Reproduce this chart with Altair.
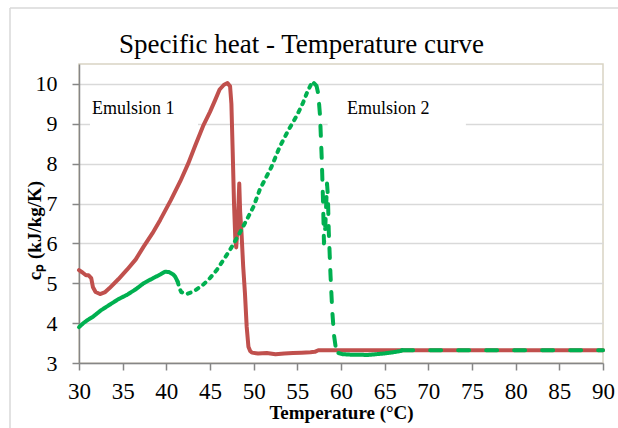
import altair as alt
import pandas as pd

TITLE = "Specific heat - Temperature curve"
X_TITLE = "Temperature (°C)"
Y_TITLE = "cₚ (kJ/kg/K)"
x_ticks = list(range(30, 95, 5))
y_ticks = list(range(3, 11))

# Emulsion 1 (red, solid)
e1_T = [30, 30.4, 30.8, 31.1, 31.4, 31.6, 31.9, 32.4, 33.0, 33.5, 34.5, 35.5, 36.5, 37.4,
        38.4, 39.3, 40.5, 41.6, 42.5, 43.3, 44.2, 45.0, 45.6, 46.1, 46.6, 47.0, 47.3, 47.45,
        47.6, 47.75, 47.9, 48.0, 48.2, 48.35, 48.45, 48.6, 48.8, 49.0, 49.2, 49.4, 49.6, 49.8,
        50.5, 51.5, 52.5, 53.5, 54.5, 55.5, 56.5, 57.0, 57.4, 60, 70, 80, 90]
e1_cp = [5.33, 5.27, 5.2, 5.2, 5.13, 4.9, 4.78, 4.73, 4.78, 4.88, 5.1, 5.34, 5.6, 5.92,
         6.25, 6.59, 7.08, 7.56, 8.0, 8.45, 8.94, 9.3, 9.6, 9.86, 9.98, 10.02, 9.94, 9.5,
         8.3, 7.0, 6.1, 5.9, 6.6, 7.5, 6.8, 6.3, 5.42, 4.76, 3.91, 3.41, 3.3, 3.26,
         3.24, 3.25, 3.22, 3.24, 3.25, 3.26, 3.27, 3.28, 3.32, 3.32, 3.32, 3.32, 3.32]

# Emulsion 2 (green, dashed)
e2_T = [30, 30.5, 31, 31.6, 32.5, 33.5, 34.5, 35.5, 36.5, 37.4, 38.5, 39.3, 39.85, 40.3,
        40.8, 41.0, 41.3, 41.5, 41.7, 42.3, 43.1, 44.2, 45.0, 45.8, 46.5, 47.3, 48.4, 49.2,
        50.0, 50.7, 52.0, 53.0, 54.0, 54.9, 55.6, 56.2, 56.6, 56.9, 57.2, 57.4, 57.6, 57.8,
        57.95, 58.05, 58.2, 58.4, 58.5, 58.6, 58.8, 59.0, 59.2, 59.4, 59.7, 60.2, 61, 62,
        63, 64, 65, 66, 66.8, 67.0, 70, 80, 90]
e2_cp = [3.9, 4.0, 4.08, 4.16, 4.32, 4.46, 4.6, 4.71, 4.85, 5.0, 5.13, 5.22, 5.29, 5.28,
         5.22, 5.17, 5.04, 4.88, 4.78, 4.73, 4.79, 4.96, 5.13, 5.34, 5.57, 5.84, 6.26, 6.59,
         6.93, 7.35, 7.9, 8.43, 8.85, 9.19, 9.5, 9.83, 10.0, 10.02, 9.95, 9.75, 9.2, 8.1,
         7.0, 6.0, 6.4, 7.5, 7.2, 6.3, 5.2, 4.3, 3.7, 3.38, 3.25, 3.22, 3.21, 3.21,
         3.2, 3.22, 3.24, 3.27, 3.3, 3.32, 3.32, 3.32, 3.32]
e2_breaks = [30, 41.3, 56.9, 59.7, 67.0, 90]
e2_styles = ["solid", "dot", "dash", "solid", "longdash"]

# annotation labels and their white backgrounds
lab_text = ["Emulsion 1", "Emulsion 2"]
lab_T = [31.49, 60.69]
lab_cp = [9.245, 9.245]
box_T0 = [31.26, 58.47]
box_T1 = [43.63, 74.3]
box_cp0 = [8.9, 8.9]
box_cp1 = [9.85, 9.85]

FONT = "Liberation Serif"
RED = "#c0504d"
GREEN = "#00b050"

df1 = pd.DataFrame({"T": e1_T, "cp": e1_cp})
rows = []
for i in range(len(e2_styles)):
    lo, hi = e2_breaks[i], e2_breaks[i + 1]
    for t, c in zip(e2_T, e2_cp):
        if lo <= t <= hi:
            rows.append({"T": t, "cp": c, "seg": f"s{i}", "style": e2_styles[i]})
df2 = pd.DataFrame(rows)
labels = pd.DataFrame({"text": lab_text, "T": lab_T, "cp": lab_cp})
boxes = pd.DataFrame({"T0": box_T0, "T1": box_T1, "c0": box_cp0, "c1": box_cp1})

xs = alt.Scale(domain=[30, 90], nice=False, zero=False)
ys = alt.Scale(domain=[3, 10.5], nice=False, zero=False)

x_axis = alt.Axis(values=x_ticks, title=X_TITLE, grid=False, labelFontSize=23,
                  labelFont=FONT, labelColor="black", labelPadding=10, tickSize=7,
                  titleFont=FONT, titleFontSize=19, titleFontWeight="bold",
                  titleColor="black", titleBaseline="alphabetic", titleY=55.5,
                  labelFlush=False)
y_axis = alt.Axis(values=y_ticks, title=Y_TITLE, grid=True, labelFontSize=22,
                  labelFont=FONT, labelColor="black", labelPadding=15, tickSize=7,
                  titleFont=FONT, titleFontSize=19, titleFontWeight="bold",
                  titleColor="black", titleAngle=-90, titleBaseline="alphabetic",
                  titleAlign="center", titleX=-39, titleY=166, labelFlush=False)

single = alt.Chart(alt.Data(values=[{}]))
border_left = single.mark_rule(color="#d9d9d9", strokeWidth=1.5).encode(
    x=alt.value(-69), y=alt.value(-56), y2=alt.value(364))
border_top = single.mark_rule(color="#d9d9d9", strokeWidth=1.5).encode(
    x=alt.value(-69), x2=alt.value(539), y=alt.value(-56))
title_layer = single.mark_text(align="left", baseline="alphabetic", font=FONT,
                               fontSize=27, color="black").encode(
    x=alt.value(40), y=alt.value(-11), text=alt.value(TITLE))

box_layer = alt.Chart(boxes).mark_rect(color="white").encode(
    x=alt.X("T0:Q", scale=xs, axis=x_axis), x2="T1:Q",
    y=alt.Y("c0:Q", scale=ys, axis=y_axis), y2="c1:Q")

red_line = alt.Chart(df1).mark_line(color=RED, strokeWidth=4, strokeJoin="round",
                                    strokeCap="round").encode(
    x=alt.X("T:Q", scale=xs, axis=x_axis),
    y=alt.Y("cp:Q", scale=ys, axis=y_axis))

green_line = alt.Chart(df2).mark_line(color=GREEN, strokeWidth=4, strokeJoin="round",
                                      strokeCap="round").encode(
    x=alt.X("T:Q", scale=xs, axis=x_axis),
    y=alt.Y("cp:Q", scale=ys, axis=y_axis),
    detail="seg:N",
    strokeDash=alt.StrokeDash("style:N", legend=None,
                              scale=alt.Scale(domain=["solid", "dot", "dash", "longdash"],
                                              range=[[1, 0], [3, 6], [10, 12], [11, 17]])))

text_layer = alt.Chart(labels).mark_text(align="left", baseline="alphabetic", font=FONT,
                                         fontSize=18, color="black").encode(
    x=alt.X("T:Q", scale=xs, axis=x_axis),
    y=alt.Y("cp:Q", scale=ys, axis=y_axis),
    text="text:N")

chart = alt.layer(border_left, border_top, box_layer, red_line, green_line, text_layer,
                  title_layer).properties(
    width=524, height=299,
    autosize=alt.AutoSizeParams(type="none"),
    padding={"left": 79, "top": 64, "right": 15, "bottom": 65},
    background="white",
).configure_view(
    stroke="#d9d4c3", strokeWidth=1.5
).configure_axis(
    domainColor="#868686", domainWidth=1.5, tickColor="#868686", tickWidth=1.5,
    gridColor="#d9d9d9", gridWidth=1.5
)

chart.save("out.html", embed_options={"renderer": "svg", "actions": False})
